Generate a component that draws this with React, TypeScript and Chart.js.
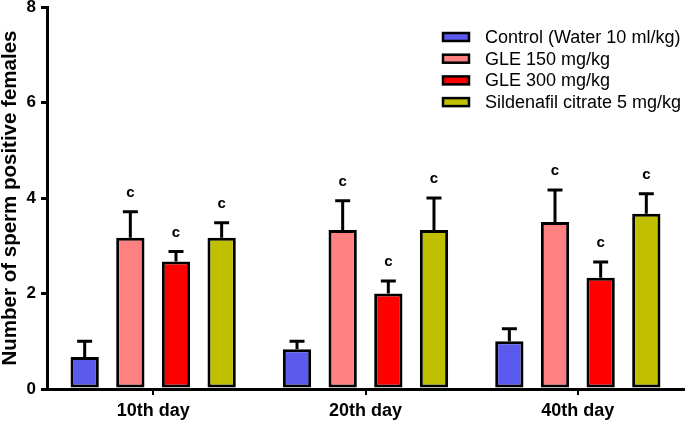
import React, { useEffect, useRef } from "react";
import { Chart, registerables } from "chart.js";

Chart.register(...registerables);

const categories = ["10th day", "20th day", "40th day"];
const seriesLabels = [
  "Control (Water 10 ml/kg)",
  "GLE 150 mg/kg",
  "GLE 300 mg/kg",
  "Sildenafil citrate 5 mg/kg",
];
const controlValues = [0.67, 0.83, 1.0];
const controlErrors = [0.33, 0.17, 0.26];
const gle150Values = [3.17, 3.33, 3.5];
const gle150Errors = [0.54, 0.61, 0.67];
const gle300Values = [2.67, 2.0, 2.33];
const gle300Errors = [0.21, 0.26, 0.33];
const sildenafilValues = [3.17, 3.33, 3.67];
const sildenafilErrors = [0.31, 0.67, 0.42];
const controlSig = ["", "", ""];
const gle150Sig = ["c", "c", "c"];
const gle300Sig = ["c", "c", "c"];
const sildenafilSig = ["c", "c", "c"];
const yTicks = [0, 2, 4, 6, 8];
const yTitle = "Number of sperm positive females";

const colors = ["#5A5AEE", "#FF8080", "#FF0000", "#C0C000"];
const FONT = "'Liberation Sans', Arial, Helvetica, sans-serif";

const values = [controlValues, gle150Values, gle300Values, sildenafilValues];
const errors = [controlErrors, gle150Errors, gle300Errors, sildenafilErrors];
const sigs = [controlSig, gle150Sig, gle300Sig, sildenafilSig];

const errorBarPlugin = {
  id: "errorBars",
  afterDatasetsDraw(chart: any) {
    const ctx = chart.ctx;
    const yScale = chart.scales.y;
    ctx.save();
    chart.data.datasets.forEach((ds: any, i: number) => {
      const meta = chart.getDatasetMeta(i);
      meta.data.forEach((bar: any, j: number) => {
        const v = ds.data[j];
        const e = ds.errors[j];
        const x = bar.x;
        const yTop = yScale.getPixelForValue(v);
        const yErr = yScale.getPixelForValue(v + e);
        ctx.strokeStyle = "#000";
        ctx.lineWidth = 3;
        ctx.beginPath();
        ctx.moveTo(x, yTop);
        ctx.lineTo(x, yErr);
        ctx.moveTo(x - 7.5, yErr);
        ctx.lineTo(x + 7.5, yErr);
        ctx.stroke();
        const s = ds.sig[j];
        if (s) {
          ctx.fillStyle = "#000";
          ctx.font = `bold 15px ${FONT}`;
          ctx.textAlign = "center";
          ctx.textBaseline = "middle";
          ctx.fillText(s, x, yErr - 19);
        }
      });
    });
    ctx.restore();
  },
};

const legendPlugin = {
  id: "customLegend",
  afterDraw(chart: any) {
    const ctx = chart.ctx;
    ctx.save();
    const boxX = 443;
    const boxW = 26;
    const boxH = 8;
    const textX = 485;
    const startY = 37;
    const step = 21.7;
    chart.data.datasets.forEach((ds: any, i: number) => {
      const cy = startY + i * step;
      ctx.fillStyle = ds.backgroundColor;
      ctx.fillRect(boxX, cy - boxH / 2, boxW, boxH);
      ctx.strokeStyle = "#000";
      ctx.lineWidth = 2.5;
      ctx.strokeRect(boxX, cy - boxH / 2, boxW, boxH);
      ctx.fillStyle = "#000";
      ctx.font = `18px ${FONT}`;
      ctx.textAlign = "left";
      ctx.textBaseline = "middle";
      ctx.fillText(ds.label, textX, cy + 1);
    });
    ctx.restore();
  },
};

export default function App() {
  const ref = useRef<HTMLCanvasElement | null>(null);
  useEffect(() => {
    if (!ref.current) return;
    const chart = new Chart(ref.current, {
      type: "bar",
      data: {
        labels: categories,
        datasets: seriesLabels.map((label, i) => ({
          label,
          data: values[i],
          errors: errors[i],
          sig: sigs[i],
          backgroundColor: colors[i],
          borderColor: "#000",
          borderWidth: 3,
          borderSkipped: false,
          categoryPercentage: 0.86,
          barPercentage: 0.62,
        })) as any,
      },
      options: {
        responsive: false,
        animation: false,
        devicePixelRatio: 1,
        layout: { padding: { left: 0, right: 1, top: 7, bottom: 0 } },
        plugins: {
          legend: { display: false },
          tooltip: { enabled: false },
        },
        scales: {
          x: {
            offset: true,
            grid: {
              display: true,
              drawOnChartArea: false,
              drawTicks: true,
              offset: false,
              tickLength: 6,
              lineWidth: 2,
              color: "#000",
            },
            border: { display: true, width: 3, color: "#000" },
            ticks: {
              color: "#000",
              padding: 5,
              font: { family: FONT, size: 18, weight: "bold" },
            },
            afterFit(scale: any) {
              scale.height = 32;
              scale.paddingLeft = 0;
              scale.paddingRight = 0;
            },
          },
          y: {
            min: 0,
            max: 8,
            afterBuildTicks(scale: any) {
              scale.ticks = yTicks.map((v) => ({ value: v }));
            },
            grid: {
              display: true,
              drawOnChartArea: false,
              drawTicks: true,
              tickLength: 6,
              lineWidth: 3,
              color: "#000",
            },
            border: { display: true, width: 3, color: "#000" },
            ticks: {
              color: "#000",
              padding: 5,
              font: { family: FONT, size: 17, weight: "bold" },
            },
            title: {
              display: true,
              text: yTitle,
              color: "#000",
              padding: 0,
              font: { family: FONT, size: 20.5, weight: "bold", lineHeight: 1 },
            },
            afterFit(scale: any) {
              scale.width = 47;
              scale.paddingTop = 0;
              scale.paddingBottom = 0;
            },
          },
        },
      },
      plugins: [errorBarPlugin, legendPlugin],
    });
    return () => chart.destroy();
  }, []);
  return (
    <div style={{ position: "absolute", left: 0, top: 0, width: 685, height: 421, background: "#fff" }}>
      <canvas ref={ref} width={685} height={421} style={{ display: "block" }} />
    </div>
  );
}
